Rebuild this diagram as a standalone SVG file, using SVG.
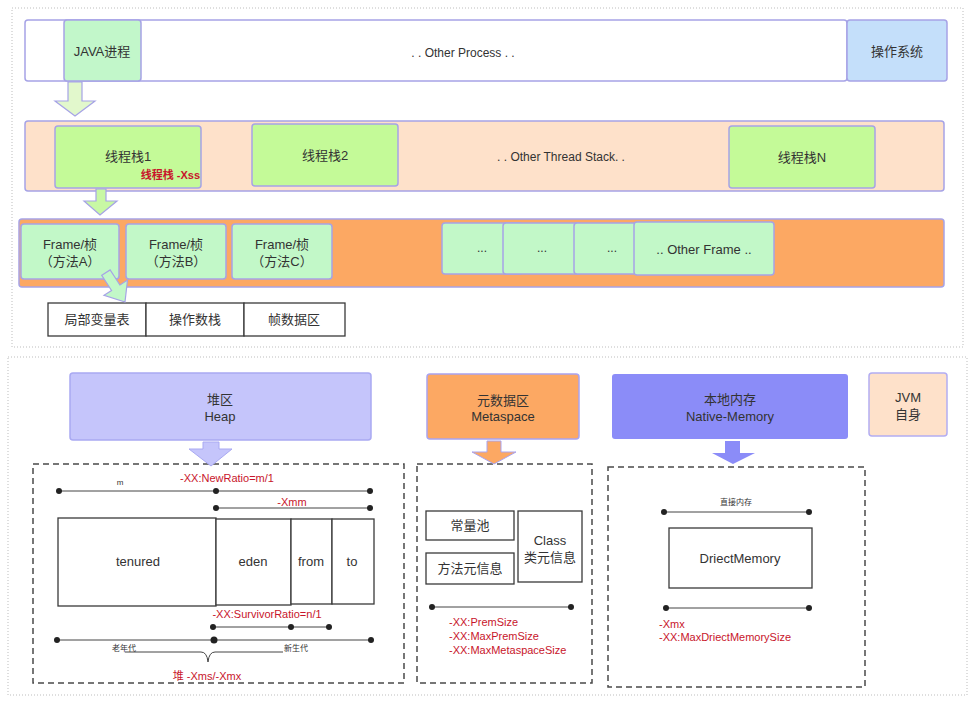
<svg xmlns="http://www.w3.org/2000/svg" width="974" height="703" viewBox="0 0 974 703">
  <style>
    text { font-family: "Liberation Sans", "Noto Sans CJK SC", sans-serif; fill: #333; dominant-baseline: central; text-anchor: middle; }
    .t12 { font-size: 13px; }
    .t11 { font-size: 12px; }
    .t8 { font-size: 8px; }
    .red { fill: #c8152b; font-size: 11px; }
    .lft { text-anchor: start; }
    .area { fill: none; stroke: #bdbdbd; stroke-width: 1; stroke-dasharray: 1 2; }
    .box { stroke: #a6a3e6; stroke-width: 1.5; }
    .plain { fill: #fff; stroke: #3a3a3a; stroke-width: 1.3; }
    .dash { fill: none; stroke: #4a4a4a; stroke-width: 1.5; stroke-dasharray: 6 4; }
    .dim { stroke: #444; stroke-width: 1; fill: none; }
    .dot { fill: #222; }
    .arrow { stroke: #a6a3e6; stroke-width: 1.2; }
  </style>

  <!-- outer areas -->
  <rect class="area" x="12" y="8" width="951" height="339"/>
  <rect class="area" x="8" y="357" width="959" height="338"/>

  <!-- process row -->
  <g id="process-bar">
    <rect class="box" x="25" y="20" width="822" height="61" rx="3" fill="#fff"/>
    <text class="t11" x="463" y="53">. . Other Process . .</text>
  </g>
  <g id="os">
    <rect class="box" x="847" y="20" width="100" height="61" rx="3" fill="#c4dffa"/>
    <text class="t12" x="897" y="51">操作系统</text>
  </g>
  <g id="java-process">
    <rect class="box" x="64" y="20" width="77" height="61" rx="3" fill="#c2f7ca"/>
    <text class="t12" x="102" y="51">JAVA进程</text>
  </g>

  <!-- thread stack row -->
  <g id="thread-bar">
    <rect class="box" x="25" y="121" width="919" height="70" rx="3" fill="#fee1ca"/>
    <text class="t11" x="561" y="157">. . Other Thread Stack. .</text>
  </g>
  <g id="thread-1">
    <rect class="box" x="55" y="126" width="146" height="62" rx="3" fill="#c4fa98"/>
    <text class="t12" x="128" y="156">线程栈1</text>
    <text class="red" x="200" y="175" style="text-anchor:end;font-weight:bold">线程栈 -Xss</text>
  </g>
  <g id="thread-2">
    <rect class="box" x="252" y="124" width="146" height="62" rx="3" fill="#c4fa98"/>
    <text class="t12" x="325" y="155">线程栈2</text>
  </g>
  <g id="thread-n">
    <rect class="box" x="729" y="126" width="146" height="62" rx="3" fill="#c4fa98"/>
    <text class="t12" x="802" y="157">线程栈N</text>
  </g>

  <!-- frame row -->
  <g id="frame-bar">
    <rect class="box" x="19" y="219" width="925" height="68" rx="3" fill="#fca863"/>
  </g>
  <g id="frame-a">
    <rect class="box" x="21" y="224" width="98" height="55" rx="3" fill="#c2f8c8"/>
    <text class="t12" x="70" y="244">Frame/桢</text>
    <text class="t12" x="70" y="261">（方法A）</text>
  </g>
  <g id="frame-b">
    <rect class="box" x="126" y="224" width="100" height="55" rx="3" fill="#c2f8c8"/>
    <text class="t12" x="176" y="244">Frame/桢</text>
    <text class="t12" x="176" y="261">（方法B）</text>
  </g>
  <g id="frame-c">
    <rect class="box" x="232" y="224" width="100" height="55" rx="3" fill="#c2f8c8"/>
    <text class="t12" x="282" y="244">Frame/桢</text>
    <text class="t12" x="282" y="261">（方法C）</text>
  </g>
  <g id="frame-more-1">
    <rect class="box" x="442" y="223" width="80" height="51" rx="3" fill="#c2f8c8"/>
    <text class="t11" x="482" y="248">...</text>
  </g>
  <g id="frame-more-2">
    <rect class="box" x="503" y="223" width="78" height="51" rx="3" fill="#c2f8c8"/>
    <text class="t11" x="542" y="248">...</text>
  </g>
  <g id="frame-more-3">
    <rect class="box" x="574" y="223" width="76" height="51" rx="3" fill="#c2f8c8"/>
    <text class="t11" x="612" y="248">...</text>
  </g>
  <g id="frame-other">
    <rect class="box" x="634" y="222" width="140" height="53" rx="3" fill="#c2f8c8"/>
    <text class="t12" x="704" y="249">.. Other Frame ..</text>
  </g>

  <!-- frame contents -->
  <g id="local-vars">
    <rect class="plain" x="48" y="303" width="98" height="33"/>
    <text class="t12" x="97" y="319">局部变量表</text>
  </g>
  <g id="operand-stack">
    <rect class="plain" x="146" y="303" width="98" height="33"/>
    <text class="t12" x="195" y="319">操作数栈</text>
  </g>
  <g id="frame-data">
    <rect class="plain" x="244" y="303" width="101" height="33"/>
    <text class="t12" x="294" y="319">帧数据区</text>
  </g>

  <!-- memory areas -->
  <g id="heap">
    <rect x="70" y="373" width="301" height="67" rx="3" fill="#c5c5fb" stroke="#a9a9f2" stroke-width="1.5"/>
    <text class="t12" x="220" y="399">堆区</text>
    <text class="t12" x="220" y="416">Heap</text>
  </g>
  <g id="metaspace">
    <rect x="427" y="374" width="152" height="65" rx="3" fill="#fca863" stroke="#a9a3f0" stroke-width="1.5"/>
    <text class="t12" x="503" y="400">元数据区</text>
    <text class="t12" x="503" y="416">Metaspace</text>
  </g>
  <g id="native-memory">
    <rect x="612" y="374" width="236" height="65" rx="3" fill="#8b8cf8"/>
    <text class="t12" x="730" y="399">本地内存</text>
    <text class="t12" x="730" y="416">Native-Memory</text>
  </g>
  <g id="jvm-self">
    <rect x="869" y="373" width="78" height="63" rx="3" fill="#fee1ca" stroke="#b3adf2" stroke-width="1.5"/>
    <text class="t12" x="908" y="397">JVM</text>
    <text class="t12" x="908" y="414">自身</text>
  </g>

  <!-- heap detail -->
  <g id="heap-detail">
    <rect class="dash" x="33" y="464" width="371" height="219"/>
    <text class="t8" x="120" y="482">m</text>
    <text class="red" x="227" y="478">-XX:NewRatio=m/1</text>
    <line class="dim" x1="59" y1="491" x2="370" y2="491"/>
    <circle class="dot" cx="59" cy="491" r="3"/>
    <circle class="dot" cx="216" cy="491" r="3"/>
    <circle class="dot" cx="370" cy="491" r="3"/>
    <text class="red" x="292" y="502">-Xmm</text>
    <line class="dim" x1="216" y1="508" x2="370" y2="508"/>
    <circle class="dot" cx="216" cy="508" r="3"/>
    <circle class="dot" cx="370" cy="508" r="3"/>
    <rect class="plain" x="58" y="518" width="158" height="88"/>
    <rect class="plain" x="216" y="519" width="75" height="86"/>
    <rect class="plain" x="291" y="519" width="41" height="85"/>
    <rect class="plain" x="332" y="519" width="42" height="85"/>
    <text class="t12" x="138" y="561">tenured</text>
    <text class="t12" x="253" y="561">eden</text>
    <text class="t12" x="311" y="561">from</text>
    <text class="t12" x="352" y="561">to</text>
    <text class="red" x="267" y="614">-XX:SurvivorRatio=n/1</text>
    <line class="dim" x1="213" y1="627" x2="329" y2="627"/>
    <circle class="dot" cx="213" cy="627" r="3"/>
    <circle class="dot" cx="291" cy="627" r="3"/>
    <circle class="dot" cx="329" cy="627" r="3"/>
    <line class="dim" x1="57" y1="640" x2="371" y2="640"/>
    <circle class="dot" cx="57" cy="640" r="3"/>
    <circle class="dot" cx="214" cy="640" r="3.5"/>
    <circle class="dot" cx="371" cy="640" r="3"/>
    <text class="t8" x="124" y="648">老年代</text>
    <text class="t8" x="296" y="648">新生代</text>
    <path class="dim" d="M125,652 L201,652 Q207,652 208,662 Q209,652 215,652 L283,652"/>
    <text class="red" x="207" y="676">堆 -Xms/-Xmx</text>
  </g>

  <!-- metaspace detail -->
  <g id="metaspace-detail">
    <rect class="dash" x="417" y="464" width="175" height="219"/>
    <rect class="plain" x="426" y="511" width="88" height="29"/>
    <text class="t12" x="470" y="525">常量池</text>
    <rect class="plain" x="426" y="553" width="88" height="31"/>
    <text class="t12" x="470" y="568">方法元信息</text>
    <rect class="plain" x="518" y="511" width="64" height="71"/>
    <text class="t12" x="550" y="540">Class</text>
    <text class="t12" x="550" y="557">类元信息</text>
    <line class="dim" x1="432" y1="607" x2="571" y2="607"/>
    <circle class="dot" cx="432" cy="607" r="3"/>
    <circle class="dot" cx="571" cy="607" r="3"/>
    <text class="red lft" x="449" y="622">-XX:PremSize</text>
    <text class="red lft" x="449" y="636">-XX:MaxPremSize</text>
    <text class="red lft" x="449" y="650">-XX:MaxMetaspaceSize</text>
  </g>

  <!-- native memory detail -->
  <g id="native-detail">
    <rect class="dash" x="608" y="467" width="257" height="220"/>
    <text class="t8" x="736" y="502">直接内存</text>
    <line class="dim" x1="664" y1="512" x2="809" y2="512"/>
    <circle class="dot" cx="664" cy="512" r="3"/>
    <circle class="dot" cx="809" cy="512" r="3"/>
    <rect class="plain" x="669" y="528" width="143" height="60"/>
    <text class="t12" x="740" y="558">DriectMemory</text>
    <line class="dim" x1="666" y1="608" x2="809" y2="608"/>
    <circle class="dot" cx="666" cy="608" r="3"/>
    <circle class="dot" cx="809" cy="608" r="3"/>
    <text class="red lft" x="659" y="624">-Xmx</text>
    <text class="red lft" x="659" y="637">-XX:MaxDriectMemorySize</text>
  </g>

  <!-- connectors: block arrows -->
  <g id="connectors">
    <polygon class="arrow" fill="#e2f8cc" points="68,82 82,82 82,101 95,101 75,116 55,101 68,101"/>
    <polygon class="arrow" fill="#c8f8a4" points="96,189 106,189 106,201 117,201 100,215 84,201 96,201"/>
    <polygon class="arrow" fill="#c2f8c8" transform="translate(125,302) rotate(-33)" points="-5,-35 5,-35 5,-17 14,-17 0,0 -14,-17 -5,-17"/>
    <polygon fill="#c5c5fb" stroke="#a9a9f2" stroke-width="1" points="203,442 219,442 219,449 232,449 211,466 189,449 203,449"/>
    <polygon fill="#fca863" stroke="#a9a3f0" stroke-width="1" points="487,441 501,441 501,452 516,452 494,464 472,452 487,452"/>
    <polygon fill="#8b8cf8" points="725,441 740,441 740,453 755,453 733,464 712,453 725,453"/>
  </g>
</svg>
